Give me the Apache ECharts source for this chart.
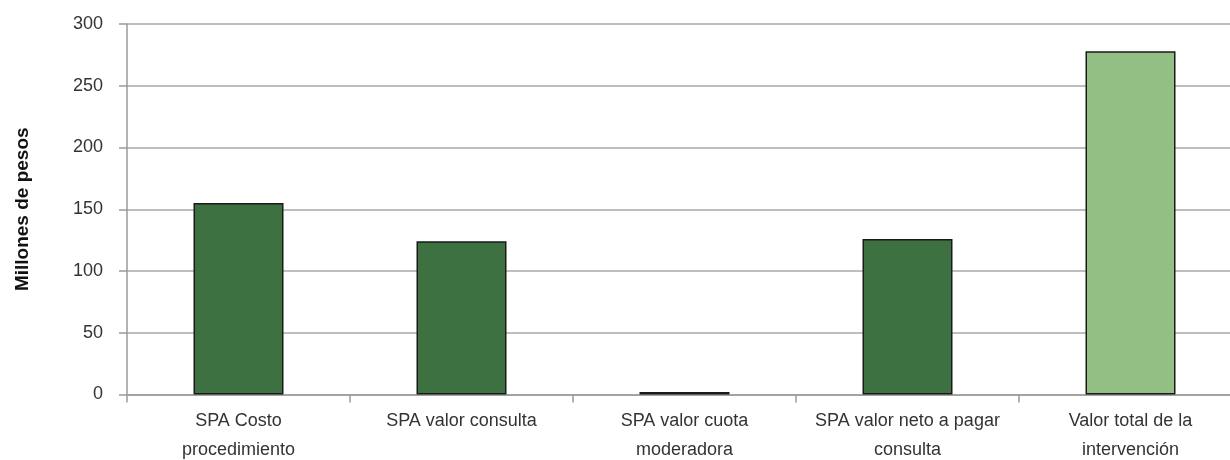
<!DOCTYPE html>
<html>
<head>
<meta charset="utf-8">
<script src="https://cdn.jsdelivr.net/npm/echarts@6/dist/echarts.min.js"></script>
<style>
  html, body { margin: 0; padding: 0; background: #ffffff; overflow: hidden; }
  #chart { width: 1230px; height: 460px; }
</style>
</head>
<body>
<div id="chart"></div>
<script>
// Costs per concept, in millions of pesos
const categories = [
  'SPA Costo\nprocedimiento',
  'SPA valor consulta',
  'SPA valor cuota\nmoderadora',
  'SPA valor neto a pagar\nconsulta',
  'Valor total de la\nintervención'
];
const values = [155, 124, 2, 126, 278];
const barColors = ['#3e7142', '#3e7142', '#3e7142', '#3e7142', '#93bf85'];
const yTicks = { min: 0, max: 300, interval: 50 };

const chart = echarts.init(document.getElementById('chart'));
chart.setOption({
  animation: false,
  grid: {
    left: 127, top: 24, width: 1115, height: 370.5,
    containLabel: false,
    outerBoundsMode: 'none'
  },
  xAxis: {
    type: 'category',
    data: categories,
    axisLine: { lineStyle: { color: '#9a9a9a', width: 1.5 } },
    axisTick: { show: true, length: 8, lineStyle: { color: '#9a9a9a', width: 1.5 } },
    axisLabel: {
      color: '#333333',
      fontFamily: 'Liberation Sans, Arial, sans-serif',
      fontSize: 18,
      lineHeight: 29,
      margin: 12,
      interval: 0
    }
  },
  yAxis: {
    type: 'value',
    min: yTicks.min,
    max: yTicks.max,
    interval: yTicks.interval,
    name: 'Millones de pesos',
    nameLocation: 'middle',
    nameGap: 95,
    nameRotate: 90,
    nameTextStyle: {
      color: '#111111',
      fontFamily: 'Liberation Sans Narrow, Arial Narrow, Liberation Sans, sans-serif',
      fontWeight: 'bold',
      fontSize: 19
    },
    axisLine: { show: true, lineStyle: { color: '#9a9a9a', width: 1.5 } },
    axisTick: { show: true, length: 8, lineStyle: { color: '#9a9a9a', width: 1.5 } },
    axisLabel: {
      color: '#333333',
      fontFamily: 'Liberation Sans, Arial, sans-serif',
      fontSize: 18,
      margin: 24
    },
    splitLine: { lineStyle: { color: '#a8a8a8', width: 1.5 } }
  },
  series: [{
    type: 'bar',
    data: values.map((v, i) => ({
      value: v,
      itemStyle: { color: barColors[i] }
    })),
    barWidth: 90,
    itemStyle: { borderColor: '#1a1a1a', borderWidth: 1.5 }
  }]
});
</script>
</body>
</html>
